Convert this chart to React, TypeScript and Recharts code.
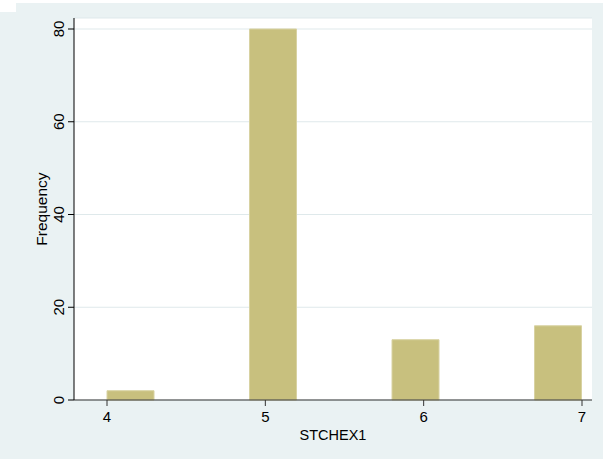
import { ComposedChart, Bar, XAxis, YAxis, CartesianGrid } from 'recharts'

// histogram bins of STCHEX1 (width 0.3, start 4)
const binMids = [4.15, 4.45, 4.75, 5.05, 5.35, 5.65, 5.95, 6.25, 6.55, 6.85]
const frequencies = [2, 0, 0, 80, 0, 0, 13, 0, 0, 16]
const xTicks = [4, 5, 6, 7]
const yTicks = [0, 20, 40, 60, 80]

const data = binMids.map((mid, i) => ({ mid, freq: frequencies[i] }))

const FONT = '"Liberation Sans", Arial, Helvetica, sans-serif'

const YTick = (props: any) => {
  const { x, y, payload } = props
  return (
    <text
      x={x}
      y={y}
      transform={`rotate(-90 ${x} ${y})`}
      textAnchor="middle"
      dominantBaseline="central"
      fontSize={15}
      fontFamily={FONT}
      fill="#000"
    >
      {payload.value}
    </text>
  )
}

const XTick = (props: any) => {
  const { x, y, payload } = props
  return (
    <text x={x} y={y} dy="0.71em" textAnchor="middle" fontSize={15} fontFamily={FONT} fill="#000">
      {payload.value}
    </text>
  )
}

export default function App() {
  return (
    <div style={{ position: 'absolute', top: 0, left: 0, width: 603, height: 459, background: '#eaf2f3' }}>
      <div style={{ position: 'absolute', top: 0, left: 0, width: 603, height: 3, background: '#fff' }} />
      <div style={{ position: 'absolute', top: 0, left: 0, width: 16, height: 12, background: '#fff' }} />
      <ComposedChart
        width={603}
        height={459}
        data={data}
        margin={{ top: 18, right: 11, bottom: 0, left: 0 }}
        barCategoryGap={0}
        barGap={0}
        style={{ position: 'absolute', top: 0, left: 0 }}
      >
        <CartesianGrid vertical={false} stroke="#dfe9eb" fill="#fff" fillOpacity={1} />
        <XAxis
          dataKey="mid"
          type="number"
          domain={[4, 7]}
          ticks={xTicks}
          padding={{ left: 33, right: 10 }}
          height={59}
          tickSize={6}
          tickMargin={5}
          tick={<XTick />}
          stroke="#333"
          tickLine={{ stroke: '#333' }}
          label={{
            content: (p: any) => {
              const vb = p.viewBox
              return (
                <text
                  x={vb.x + vb.width / 2}
                  y={vb.y + 35}
                  textAnchor="middle"
                  dominantBaseline="central"
                  fontSize={14.5}
                  fontFamily={FONT}
                  fill="#000"
                >
                  STCHEX1
                </text>
              )
            },
          }}
        />
        <YAxis
          type="number"
          domain={[0, 80]}
          ticks={yTicks}
          padding={{ top: 11, bottom: 0 }}
          width={74}
          tickSize={6}
          tickMargin={10}
          tick={<YTick />}
          stroke="#000"
          tickLine={{ stroke: '#000' }}
          label={{
            content: (p: any) => {
              const vb = p.viewBox
              const cx = vb.x + 41
              const cy = vb.y + vb.height / 2
              return (
                <text
                  x={cx}
                  y={cy}
                  transform={`rotate(-90 ${cx} ${cy})`}
                  textAnchor="middle"
                  dominantBaseline="central"
                  fontSize={15.5}
                  fontFamily={FONT}
                  fill="#000"
                >
                  Frequency
                </text>
              )
            },
          }}
        />
        <Bar dataKey="freq" fill="#c8c07e" stroke="#d8d2a2" strokeWidth={1} isAnimationActive={false} />
      </ComposedChart>
    </div>
  )
}
